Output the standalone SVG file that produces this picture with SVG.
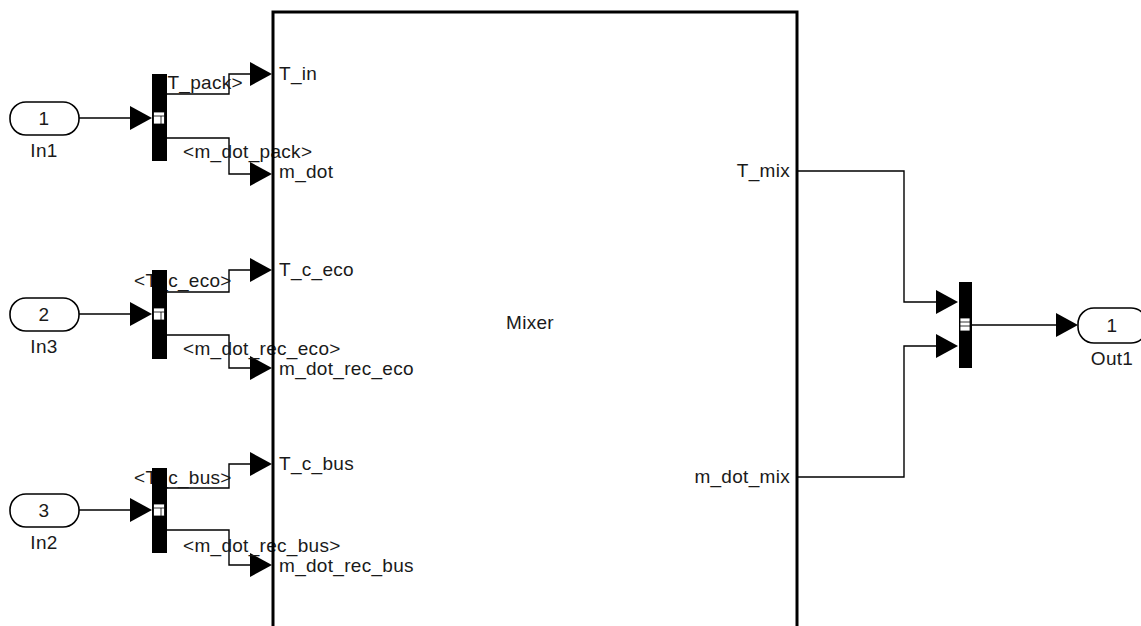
<svg xmlns="http://www.w3.org/2000/svg" width="1141" height="626" viewBox="0 0 1141 626">
<style>
.t{font-family:"Liberation Sans",Arial,sans-serif;font-size:19px;letter-spacing:0.3px;fill:#1a1a1a}
.w{fill:none;stroke:#000;stroke-width:1.4}
.bar{fill:#000}
.port{fill:#fff;stroke:#000;stroke-width:1.6}
.ah{fill:#000}
.ic{fill:#fff;stroke:#000;stroke-width:0.8}
</style>
<rect width="1141" height="626" fill="#fff"/>
<g id="connectors">
<polyline class="w" points="79,118 133,118"/>
<polygon class="ah" points="130,106 152,118 130,130"/>
<polyline class="w" points="167,94 229,94 229,74 253,74"/>
<polygon class="ah" points="250,62 272,74 250,86"/>
<polyline class="w" points="167,138 229,138 229,174 253,174"/>
<polygon class="ah" points="250,162 272,174 250,186"/>
<polyline class="w" points="79,314 133,314"/>
<polygon class="ah" points="130,302 152,314 130,326"/>
<polyline class="w" points="167,292 229,292 229,270 253,270"/>
<polygon class="ah" points="250,258 272,270 250,282"/>
<polyline class="w" points="167,335 229,335 229,368 253,368"/>
<polygon class="ah" points="250,356 272,368 250,380"/>
<polyline class="w" points="79,510 133,510"/>
<polygon class="ah" points="130,498 152,510 130,522"/>
<polyline class="w" points="167,488 229,488 229,464 253,464"/>
<polygon class="ah" points="250,452 272,464 250,476"/>
<polyline class="w" points="167,530 229,530 229,565 253,565"/>
<polygon class="ah" points="250,553 272,565 250,577"/>
<polyline class="w" points="797,171 904,171 904,302 939,302"/>
<polygon class="ah" points="936,290 958,302 936,314"/>
<polyline class="w" points="797,477 904,477 904,346 939,346"/>
<polygon class="ah" points="936,334 958,346 936,358"/>
<polyline class="w" points="972,325 1059,325"/>
<polygon class="ah" points="1056,313 1078,325 1056,337"/>
</g>
<g id="signal-labels">
<text class="t" x="156" y="89">&lt;T_pack&gt;</text>
<text class="t" x="183" y="158">&lt;m_dot_pack&gt;</text>
<text class="t" x="134" y="287">&lt;T_c_eco&gt;</text>
<text class="t" x="183" y="355">&lt;m_dot_rec_eco&gt;</text>
<text class="t" x="134" y="484">&lt;T_c_bus&gt;</text>
<text class="t" x="183" y="552">&lt;m_dot_rec_bus&gt;</text>
</g>
<g id="mixer">
<rect x="273" y="12" width="524" height="700" fill="none" stroke="#000" stroke-width="3"/>
<text class="t" x="279" y="80">T_in</text>
<text class="t" x="279" y="178">m_dot</text>
<text class="t" x="279" y="276">T_c_eco</text>
<text class="t" x="279" y="375">m_dot_rec_eco</text>
<text class="t" x="279" y="470">T_c_bus</text>
<text class="t" x="279" y="572">m_dot_rec_bus</text>
<text class="t" x="790" y="177" text-anchor="end">T_mix</text>
<text class="t" x="790" y="483" text-anchor="end">m_dot_mix</text>
<text class="t" x="530" y="329" text-anchor="middle">Mixer</text>
</g>
<g id="in1">
<rect class="port" x="10" y="102" width="69" height="33" rx="16"/>
<text class="t" x="44" y="125" text-anchor="middle">1</text>
<text class="t" x="44" y="157" text-anchor="middle">In1</text>
</g>
<g id="in3">
<rect class="port" x="10" y="298" width="69" height="33" rx="16"/>
<text class="t" x="44" y="321" text-anchor="middle">2</text>
<text class="t" x="44" y="353" text-anchor="middle">In3</text>
</g>
<g id="in2">
<rect class="port" x="10" y="494" width="69" height="33" rx="16"/>
<text class="t" x="44" y="517" text-anchor="middle">3</text>
<text class="t" x="44" y="549" text-anchor="middle">In2</text>
</g>
<g id="demux1">
<rect class="bar" x="152" y="74" width="15" height="87"/>
<rect class="ic" x="153.5" y="112" width="11" height="12"/>
<line class="ic" x1="153.5" y1="116" x2="164.5" y2="116"/>
<line class="ic" x1="161" y1="116" x2="161" y2="124"/>
</g>
<g id="demux2">
<rect class="bar" x="152" y="270" width="15" height="89"/>
<rect class="ic" x="153.5" y="308" width="11" height="12"/>
<line class="ic" x1="153.5" y1="312" x2="164.5" y2="312"/>
<line class="ic" x1="161" y1="312" x2="161" y2="320"/>
</g>
<g id="demux3">
<rect class="bar" x="152" y="468" width="15" height="85"/>
<rect class="ic" x="153.5" y="504" width="11" height="12"/>
<line class="ic" x1="153.5" y1="508" x2="164.5" y2="508"/>
<line class="ic" x1="161" y1="508" x2="161" y2="516"/>
</g>
<g id="mux">
<rect class="bar" x="959" y="282" width="13" height="86"/>
<rect class="ic" x="960" y="318" width="10" height="13"/>
<line class="ic" x1="960" y1="322" x2="970" y2="322"/>
<line class="ic" x1="960" y1="326" x2="970" y2="326"/>
</g>
<g id="out1">
<rect class="port" x="1078" y="308" width="69" height="35" rx="16"/>
<text class="t" x="1112" y="332" text-anchor="middle">1</text>
<text class="t" x="1112" y="365" text-anchor="middle">Out1</text>
</g>
</svg>
